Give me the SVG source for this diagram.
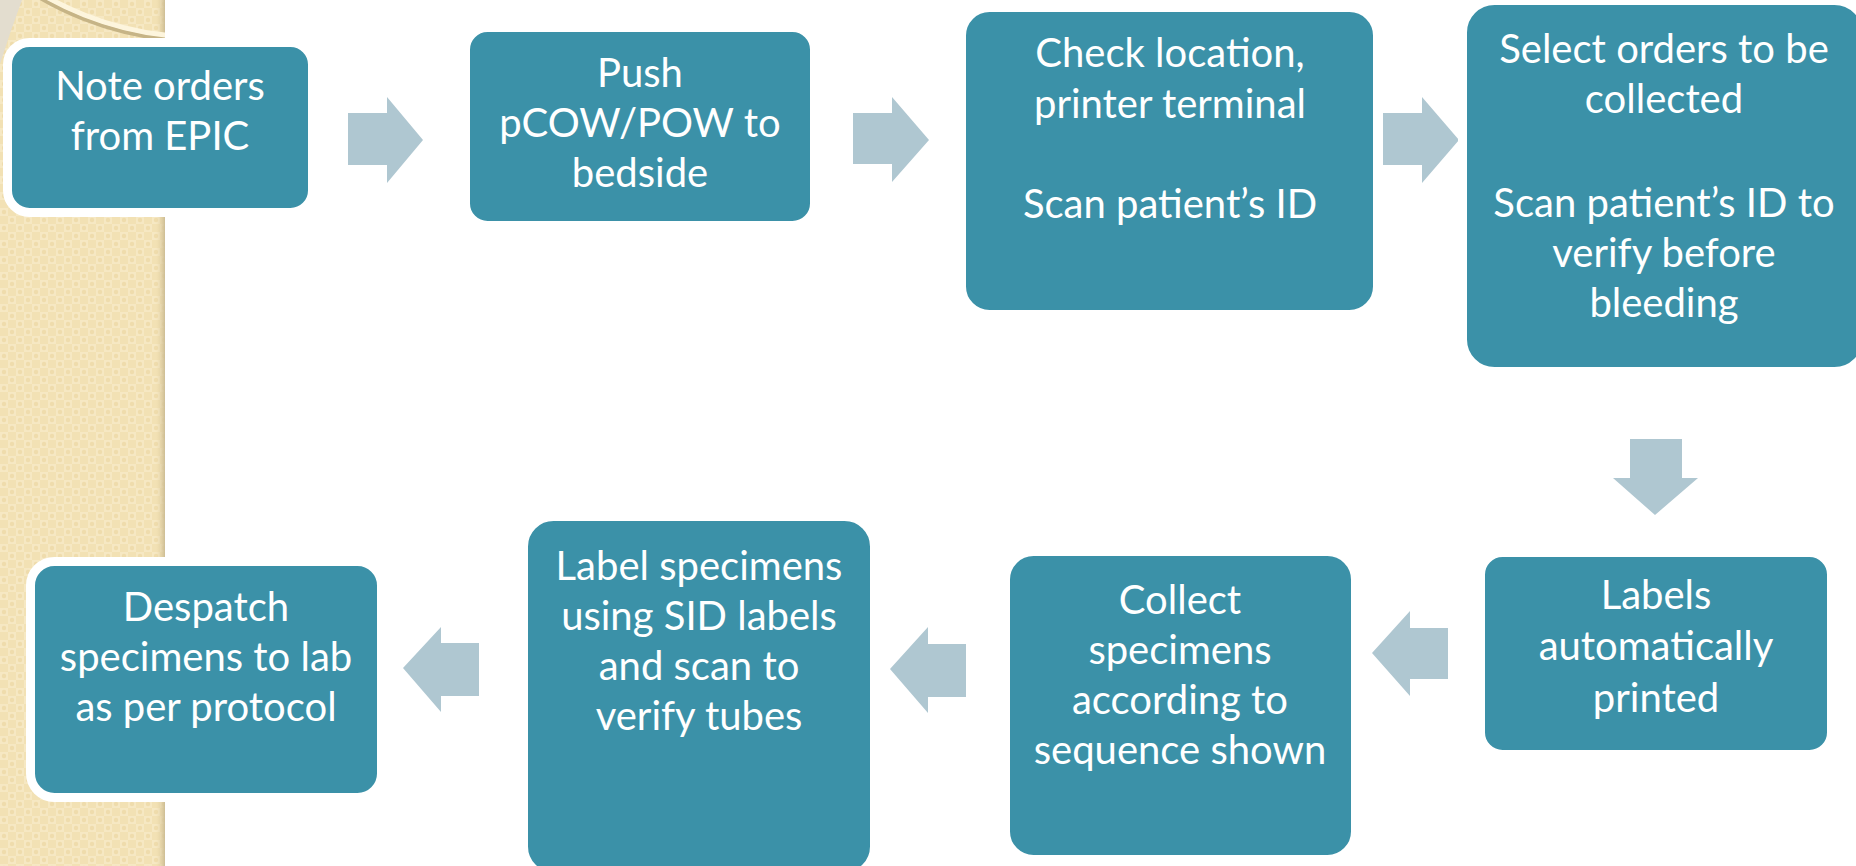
<svg xmlns="http://www.w3.org/2000/svg" width="1856" height="866" viewBox="0 0 1856 866">
  <defs>
    <!-- woven texture for the side strip -->
    <pattern id="weave" x="0" y="0" width="16" height="16" patternUnits="userSpaceOnUse">
      <rect width="16" height="16" fill="#f2e1b4"/>
      <rect x="0" y="0" width="8" height="8" fill="#f6e8c3"/>
      <rect x="8" y="8" width="8" height="8" fill="#f6e8c3"/>
      <circle cx="4" cy="4" r="2.2" fill="#efdcac"/>
      <circle cx="12" cy="12" r="2.2" fill="#efdcac"/>
    </pattern>
    <linearGradient id="edgeShade" x1="0" y1="0" x2="1" y2="0">
      <stop offset="0" stop-color="#e8d5a6" stop-opacity="0"/>
      <stop offset="1" stop-color="#cdbd94"/>
    </linearGradient>
    <clipPath id="stripClip">
      <rect x="0" y="0" width="165" height="866"/>
    </clipPath>
    <style>
      .box { fill: #3b91a8; stroke: #ffffff; stroke-width: 9; }
      .arrow { fill: #afc7d1; }
      .label { font-family: Lato, "Open Sans", "Liberation Sans", sans-serif; font-size: 40px; fill: #ffffff; text-anchor: middle; }
    </style>
  </defs>

  <rect width="1856" height="866" fill="#ffffff"/>

  <!-- side strip with decorative ring -->
  <g id="side-strip">
    <rect x="0" y="0" width="165" height="866" fill="url(#weave)"/>
    <rect x="156" y="0" width="9" height="866" fill="url(#edgeShade)"/>
    <g clip-path="url(#stripClip)">
      <path d="M0,0 L22,0 Q10,32 0,64 Z" fill="#e3ddcf"/>
      <circle cx="200" cy="-277" r="318" fill="none" stroke="#c6b486" stroke-width="4"/>
      <circle cx="200" cy="-277" r="314" fill="none" stroke="#fdf5dd" stroke-width="5"/>
    </g>
  </g>

  <!-- connectors -->
  <g id="connectors">
    <polygon class="arrow" points="348,113 387,113 387,97 423,140 387,183 387,165 348,165"/>
    <polygon class="arrow" points="853,113 892,113 892,97 929,140 892,182 892,164 853,164"/>
    <polygon class="arrow" points="1383,113 1422,113 1422,97 1459,140 1422,183 1422,165 1383,165"/>
    <polygon class="arrow" points="1630,439 1682,439 1682,478 1698,478 1655,515 1613,478 1630,478"/>
    <polygon class="arrow" points="1448,628 1410,628 1410,611 1372,653 1410,696 1410,679 1448,679"/>
    <polygon class="arrow" points="966,644 928,644 928,627 890,669 928,713 928,697 966,697"/>
    <polygon class="arrow" points="479,643 441,643 441,627 403,668 441,712 441,696 479,696"/>
  </g>

  <g id="note-orders">
    <rect class="box" x="7.5" y="42.5" width="305" height="170" rx="22"/>
    <text class="label" x="160" y="100">Note orders</text>
    <text class="label" x="160" y="150">from EPIC</text>
  </g>

  <g id="push-cow">
    <rect class="box" x="465.5" y="27.5" width="349" height="198" rx="22"/>
    <text class="label" x="640" y="87">Push</text>
    <text class="label" x="640" y="137">pCOW/POW to</text>
    <text class="label" x="640" y="187">bedside</text>
  </g>

  <g id="check-location">
    <rect class="box" x="961.5" y="7.5" width="416" height="307" rx="28"/>
    <text class="label" x="1170" y="67">Check location,</text>
    <text class="label" x="1170" y="118">printer terminal</text>
    <text class="label" x="1170" y="218">Scan patient’s ID</text>
  </g>

  <g id="select-orders">
    <rect class="box" x="1462.5" y="0.5" width="404" height="371" rx="32"/>
    <text class="label" x="1664" y="63">Select orders to be</text>
    <text class="label" x="1664" y="113">collected</text>
    <text class="label" x="1664" y="217">Scan patient’s ID to</text>
    <text class="label" x="1664" y="267">verify before</text>
    <text class="label" x="1664" y="317">bleeding</text>
  </g>

  <g id="labels-printed">
    <rect class="box" x="1480.5" y="552.5" width="351" height="202" rx="22"/>
    <text class="label" x="1656" y="609">Labels</text>
    <text class="label" x="1656" y="660">automatically</text>
    <text class="label" x="1656" y="712">printed</text>
  </g>

  <g id="collect-specimens">
    <rect class="box" x="1005.5" y="551.5" width="350" height="308" rx="28"/>
    <text class="label" x="1180" y="614">Collect</text>
    <text class="label" x="1180" y="664">specimens</text>
    <text class="label" x="1180" y="714">according to</text>
    <text class="label" x="1180" y="764">sequence shown</text>
  </g>

  <g id="label-specimens">
    <rect class="box" x="523.5" y="516.5" width="351" height="360" rx="30"/>
    <text class="label" x="699" y="580">Label specimens</text>
    <text class="label" x="699" y="630">using SID labels</text>
    <text class="label" x="699" y="680">and scan to</text>
    <text class="label" x="699" y="730">verify tubes</text>
  </g>

  <g id="despatch">
    <rect class="box" x="30.5" y="561.5" width="351" height="236" rx="24"/>
    <text class="label" x="206" y="621">Despatch</text>
    <text class="label" x="206" y="671">specimens to lab</text>
    <text class="label" x="206" y="721">as per protocol</text>
  </g>
</svg>
